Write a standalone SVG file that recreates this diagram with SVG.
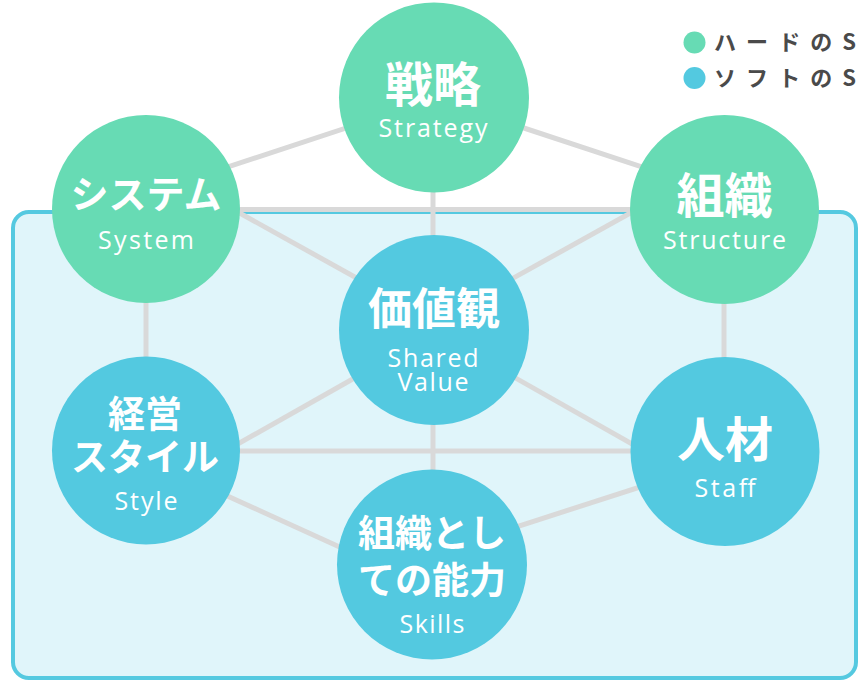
<svg xmlns="http://www.w3.org/2000/svg" width="861" height="681" viewBox="0 0 861 681">
<style>
.hard{fill:#67dbb4}
.soft{fill:#53c9e0}
.jp{font-family:"Noto Sans CJK JP","Noto Sans",sans-serif;font-weight:700;fill:#ffffff;text-anchor:middle}
.en{font-family:"Open Sans","Noto Sans",sans-serif;font-weight:400;font-size:25px;fill:#ffffff;text-anchor:middle}
.lg{font-family:"Noto Sans CJK JP","Noto Sans",sans-serif;font-weight:700;font-size:22px;fill:#4a4a4a}
#connectors line{stroke:#d9d9d9;stroke-width:5;stroke-linecap:butt}
</style>
<rect x="13" y="212" width="843" height="466" rx="16" ry="16" fill="#e0f5fa" stroke="#55c9e0" stroke-width="4"/>
<g id="connectors">
<line x1="146" y1="194" x2="434" y2="99"/>
<line x1="724" y1="194" x2="436" y2="99"/>
<line x1="146" y1="209.5" x2="724" y2="209.5"/>
<line x1="433" y1="100" x2="433" y2="330"/>
<line x1="146" y1="161" x2="434" y2="321"/>
<line x1="724" y1="161" x2="436" y2="321"/>
<line x1="146" y1="209" x2="146" y2="451"/>
<line x1="724" y1="209" x2="724" y2="451"/>
<line x1="146" y1="496" x2="434" y2="333"/>
<line x1="724" y1="496" x2="436" y2="333"/>
<line x1="146" y1="451" x2="724" y2="451"/>
<line x1="433" y1="330" x2="433" y2="565"/>
<line x1="146" y1="459" x2="432" y2="589"/>
<line x1="724" y1="460" x2="432" y2="554"/>
</g>
<g id="strategy">
<circle class="hard" cx="434" cy="97.5" r="95"/>
<text class="jp" x="433" y="102" font-size="48">戦略</text>
<text class="en" x="433" y="137" textLength="109" lengthAdjust="spacing">Strategy</text>
</g>
<g id="system">
<circle class="hard" cx="146" cy="209" r="94"/>
<text class="jp" x="146" y="208" font-size="38">システム</text>
<text class="en" x="146" y="249" textLength="96" lengthAdjust="spacing">System</text>
</g>
<g id="structure">
<circle class="hard" cx="724.5" cy="209.5" r="94.5"/>
<text class="jp" x="724.5" y="213" font-size="48">組織</text>
<text class="en" x="724.5" y="249" textLength="123" lengthAdjust="spacing">Structure</text>
</g>
<g id="shared-value">
<circle class="soft" cx="434" cy="330" r="95"/>
<text class="jp" x="434" y="325" font-size="44">価値観</text>
<text class="en" x="433" y="367" textLength="91" lengthAdjust="spacing">Shared</text>
<text class="en" x="433" y="391" textLength="71" lengthAdjust="spacing">Value</text>
</g>
<g id="style">
<circle class="soft" cx="146" cy="450.5" r="94"/>
<text class="jp" x="145" y="428" font-size="37">経営</text>
<text class="jp" x="145" y="471" font-size="37">スタイル</text>
<text class="en" x="146" y="510" textLength="63" lengthAdjust="spacing">Style</text>
</g>
<g id="staff">
<circle class="soft" cx="725" cy="451.5" r="94.5"/>
<text class="jp" x="725" y="457" font-size="48">人材</text>
<text class="en" x="725" y="497" textLength="61" lengthAdjust="spacing">Staff</text>
</g>
<g id="skills">
<circle class="soft" cx="432" cy="564.5" r="95"/>
<text class="jp" x="432" y="547" font-size="37">組織とし</text>
<text class="jp" x="432" y="594" font-size="37">ての能力</text>
<text class="en" x="432" y="633" textLength="65" lengthAdjust="spacing">Skills</text>
</g>
<g id="legend">
<circle class="hard" cx="694.5" cy="42.5" r="11"/>
<circle class="soft" cx="694.5" cy="78" r="11"/>
<text class="lg" x="714" y="50" textLength="142" lengthAdjust="spacing">ハードのS</text>
<text class="lg" x="714" y="86" textLength="142" lengthAdjust="spacing">ソフトのS</text>
</g>
</svg>
